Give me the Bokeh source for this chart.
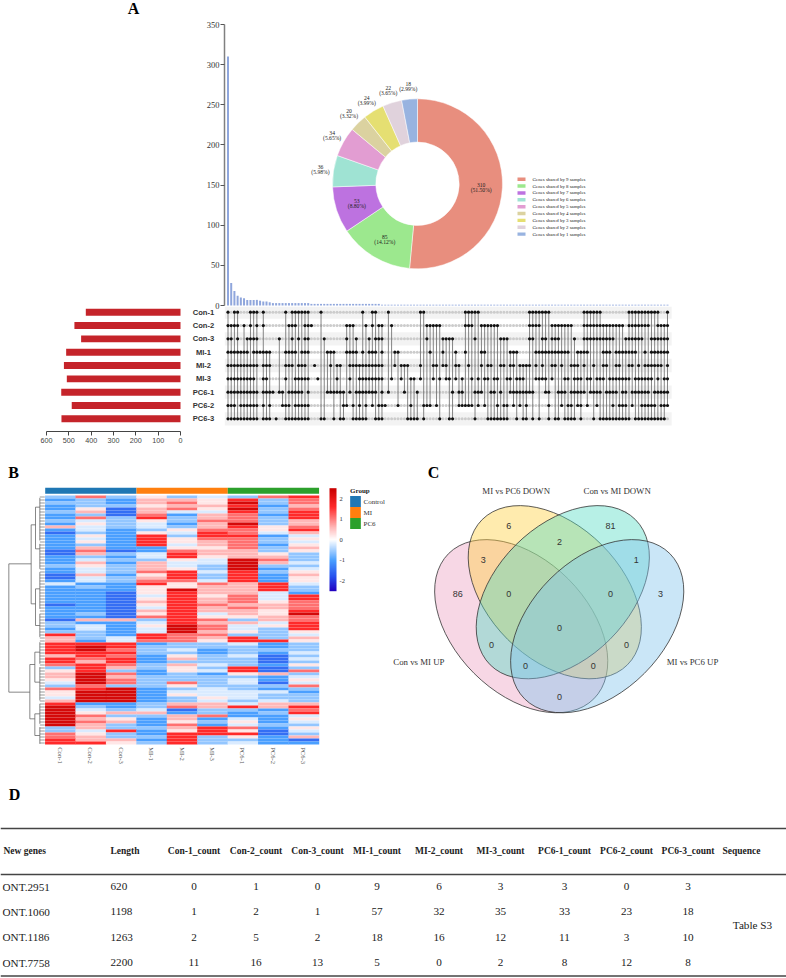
import math
from bokeh.plotting import figure
from bokeh.layouts import column, row
from bokeh.models import Range1d, FixedTicker, LinearAxis, ColorBar, LinearColorMapper, ColumnDataSource
from bokeh.core.properties import value
from bokeh.embed import file_html
from bokeh.resources import INLINE

SERIF = "Liberation Serif"
SANS = "Liberation Sans"

# ---------- Panel A data
samples = ["Con-1", "Con-2", "Con-3", "MI-1", "MI-2", "MI-3", "PC6-1", "PC6-2", "PC6-3"]
set_sizes = [424, 475, 445, 512, 522, 509, 534, 487, 533]
intersection_sizes = [310, 28, 18, 12, 10, 9, 7, 7, 7, 7, 6, 5, 5, 4,
                      3, 3, 3, 3, 3, 3, 3, 3, 3, 3, 3, 3,
                      2, 2, 2, 2, 2, 2, 2, 2, 2, 2, 2, 2, 2, 2, 2, 2, 2, 2, 2, 2, 2, 2,
                      1, 1, 1, 1, 1, 1, 1, 1, 1, 1, 1, 1, 1, 1, 1, 1, 1, 1, 1, 1, 1, 1,
                      1, 1, 1, 1, 1, 1, 1, 1, 1, 1, 1, 1, 1, 1, 1, 1, 1, 1, 1, 1, 1, 1,
                      1, 1, 1, 1, 1, 1, 1, 1, 1, 1, 1, 1, 1, 1, 1, 1, 1, 1, 1, 1, 1, 1,
                      1, 1, 1, 1, 1, 1, 1, 1, 1, 1, 1, 1, 1, 1, 1, 1, 1, 1, 1, 1, 1, 1, 1, 1]
member_runs = [
    "0 2-3 7-9 11 18 20-25 29 42 45-46 50 60-61 74-78 94-100 111-116 125-134 137",
    "0-3 5 7 9 11 19-21 24-26 37-39 43 45 47-48 51 62-66 74-76 79-84 94-97 101-107 111-123 125-131 134-137",
    "0-1 3 6-9 16 20 22 24-25 30 37 40 44 46-48 62 67-70 77 85-87 94-95 98-99 101-103 108 111-120 124-129 132-137",
    "0-6 8-13 18-21 23-25 31-33 37-40 42 44-46 48 52-53 63 67 71 74 79-80 88-90 96-106 109-112 117-119 121-127 130 132-137",
    "0-9 11-13 18-20 22-24 27 32 34-35 38-48 52 54-56 60 64-65 67-68 71-72 75 79 81-82 85-86 88-89 91-94 96 98 101-102 104 107-109 111 114 117-118 121-122 125-126 128 130-135 137",
    "0-8 11-12 18 21-25 28 34 38 41-48 51 54 57-58 60 64 66 68-69 71 73 76 78 80-81 83-84 87-88 90-92 96-99 101 105-106 108-110 112-113 115-117 119-125 127-132 134 136-137",
    "0-9 11-14 16-17 19-23 25 31-36 38 40-46 48 50 55 59 70 72-73 77-79 82-83 85 88-95 99-100 103-105 107-111 113-116 118-121 123-124 126-130 131 133-137",
    "0-2 4-9 11 13 17-19 21-25 36-37 39 41 43 45 47-49 53 57 61-63 65 72-76 78 80 84 86-87 89 91 93 100 104 106-107 109-110 112 115 120 122-124 126 129-133 135-137",
    "0-9 11-13 15 18-25 29-30 33 35-36 39-43 46-48 56-59 61 66 69-70 77 81-87 90 92-93 95 97 100 102-103 105-108 110 114 116-125 127-136",
]
donut_values = [310, 85, 53, 36, 34, 20, 24, 22, 18]
donut_percent = ["(51.50%)", "(14.12%)", "(8.80%)", "(5.98%)", "(5.65%)", "(3.32%)", "(3.99%)", "(3.65%)", "(2.99%)"]
donut_colors = ["#e88e7e", "#9ce88e", "#bd72e0", "#9fe3d3", "#e29dd2", "#dbd2a0", "#e5df72", "#e0d2dc", "#98b3e0"]
donut_legend = ["Genes shared by %d samples" % n for n in [9, 8, 7, 6, 5, 4, 3, 2, 1]]

# ---------- Panel B data (one character per cell: level index)
heat_cols = ["Con-1", "Con-2", "Con-3", "MI-1", "MI-2", "MI-3", "PC6-1", "PC6-2", "PC6-3"]
heat_levels = [-2.1, -1.5, -1.0, -0.6, -0.2, 0.2, 0.6, 1.1, 1.6, 2.3]
heat_rows = [
    "373534378", "232665837", "332675937", "233566826", "251675937", "361644838", "231726728",
    "273836738", "343537736", "253426936", "643436857", "242357758", "132548746", "252838824",
    "242857735", "252856734", "232846725", "262255736", "171276635", "163486653", "232485663",
    "243354973", "262644964", "353643933", "243653924", "243784835", "162583826", "143683825",
    "243774825", "422857684", "232556683", "222596683", "221586642", "221485748", "221586748",
    "221686757", "121587667", "221486767", "221686658", "231584659", "221785567", "166387367",
    "322486648", "342597458", "242497438", "332496535", "832877334", "634876836", "624775885",
    "888233423", "898333323", "897342333", "888332324", "687253413", "878263314", "868233313",
    "787364325", "386353813", "583254817", "697232563", "696333324", "597333425", "497373414",
    "373353337", "789234323", "599244442", "599254433", "499235433", "699234343", "822366466",
    "932376868", "943413327", "956623238", "973367224", "965262425", "976253524", "963272433",
    "363368725", "348258514", "753288813", "763383526", "866283321", "885383422",
]
group_names = ["Control", "MI", "PC6"]
group_colors = ["#1f77b4", "#ff7f0e", "#2ca02c"]

# ---------- Panel C data
venn_names = ["Con vs MI UP", "MI vs PC6 DOWN", "Con vs MI DOWN", "MI vs PC6 UP"]
venn_colors = ["#ed9fc0", "#ffcf3d", "#54dcc4", "#80c4ec"]
venn_counts = [86, 6, 81, 3, 3, 2, 1, 0, 0, 0, 0, 0, 0, 0, 0]

# ---------- Panel D data
table_header = ["New genes", "Length", "Con-1_count", "Con-2_count", "Con-3_count", "MI-1_count", "MI-2_count",
                "MI-3_count", "PC6-1_count", "PC6-2_count", "PC6-3_count", "Sequence"]
table_genes = ["ONT.2951", "ONT.1060", "ONT.1186", "ONT.7758"]
table_length = [620, 1198, 1263, 2200]
table_counts = [
    [0, 1, 0, 9, 6, 3, 3, 0, 3],
    [1, 2, 1, 57, 32, 35, 33, 23, 18],
    [2, 5, 2, 18, 16, 12, 11, 3, 10],
    [11, 16, 13, 5, 0, 2, 8, 12, 8],
]
table_note = "Table S3"


def panel(w, h, xr, yr, left=0, right=0, top=0, bottom=0):
    p = figure(width=w, height=h, x_range=xr, y_range=yr, output_backend="svg", toolbar_location=None, tools="",
               min_border_left=left, min_border_right=right, min_border_top=top, min_border_bottom=bottom)
    p.outline_line_color = None
    p.background_fill_color = None
    p.border_fill_color = None
    p.grid.visible = False
    p.axis.visible = False
    return p


def txt(p, x, y, s, size, font=SERIF, style="normal", align="center", base="middle", color="#222222", angle=0, **kw):
    p.text(x=[x], y=[y], text=[str(s)], text_font=value(font), text_font_style=style, text_font_size="%.1fpx" % size,
           text_align=align, text_baseline=base, text_color=color, angle=angle, **kw)


# ================= A: intersection bars + donut
PX0, PXD = 227.5, 3.208
DCX, DCY, RO, RI = 417, 183.3, 85, 41.7
Y_SCALE = 281 / 350
top = panel(786, 310, Range1d((0 - PX0) / PXD, (786 - PX0) / PXD), Range1d(-5 / Y_SCALE, 305 / Y_SCALE))
top.extra_x_ranges["dx"] = Range1d(0 - DCX, 786 - DCX)
top.extra_y_ranges["dy"] = Range1d(DCY - 310, DCY)
ax = top.yaxis[0]
ax.visible = True
ax.fixed_location = (224 - PX0) / PXD
ax.bounds = (0, 350)
ax.ticker = FixedTicker(ticks=[0, 50, 100, 150, 200, 250, 300, 350])
ax.axis_line_color = "#808080"
ax.axis_line_width = 1.5
ax.major_tick_line_color = "#555555"
ax.major_tick_in = 0
ax.major_tick_out = 4
ax.minor_tick_line_color = None
ax.major_label_standoff = 1
ax.major_label_text_font = SERIF
ax.major_label_text_font_size = "8.5px"
ax.major_label_text_color = "#333333"
top.vbar(x=list(range(len(intersection_sizes))), top=intersection_sizes, bottom=0, width=0.62,
         fill_color="#8fa6dc", line_color=None)
total = sum(donut_values)
starts, ends, acc = [], [], 0
for v in donut_values:
    starts.append(math.pi / 2 - 2 * math.pi * acc / total)
    acc += v
    ends.append(math.pi / 2 - 2 * math.pi * acc / total)
top.annular_wedge(x=0, y=0, inner_radius=RI, outer_radius=RO, start_angle=starts, end_angle=ends, direction="clock",
                  fill_color=donut_colors, line_color="white", line_width=0.5, x_range_name="dx", y_range_name="dy")
for i, v in enumerate(donut_values):
    mid = (starts[i] + ends[i]) / 2
    rr = RO * (0.75 if i < 3 else 1.155)
    for s, b in ((v, "bottom"), (donut_percent[i], "top")):
        txt(top, rr * math.cos(mid), rr * math.sin(mid), s, 5.6, base=b, x_range_name="dx", y_range_name="dy")
LEGX, LEGY, LEGD = 517 - DCX, DCY - 178.7, 6.87
for i, s in enumerate(donut_legend):
    yy = LEGY - LEGD * i
    top.rect(x=[LEGX + 4], y=[yy], width=8, height=3.4, fill_color=donut_colors[i], line_color=None,
             x_range_name="dx", y_range_name="dy")
    txt(top, LEGX + 15, yy, s, 4.9, align="left", x_range_name="dx", y_range_name="dy")
txt(top, 133 - DCX, DCY - 7.5, "A", 16, style="bold", color="black", x_range_name="dx", y_range_name="dy")

# ================= A: set size bars and matrix share one figure
ROW0, ROWD = 311.7, 13.33
idx = list(range(len(samples)))
mx = panel(786, 149, Range1d((46 - PX0) / PXD, (786 - PX0) / PXD), Range1d((431 - ROW0) / ROWD, (306 - ROW0) / ROWD),
           left=46, bottom=24)
SZ_SCALE = 134 / 600
mx.extra_x_ranges["sz"] = Range1d(600, 600 - (786 - 46) / SZ_SCALE)
xa = LinearAxis(x_range_name="sz", bounds=(0, 600), ticker=FixedTicker(ticks=[0, 100, 200, 300, 400, 500, 600]))
xa.axis_line_color = "#444444"
xa.major_tick_line_color = "#444444"
xa.major_tick_in = 0
xa.major_tick_out = 4
xa.minor_tick_line_color = None
xa.major_label_standoff = 2
xa.major_label_text_font = SANS
xa.major_label_text_font_size = "7.2px"
xa.major_label_text_color = "#444444"
mx.add_layout(xa, "below")
mx.hbar(y=idx, right=set_sizes, left=0, height=0.52, fill_color="#c5242a", line_color=None, x_range_name="sz")
n_cols = len(intersection_sizes)
mx.hbar(y=[i for i in idx if i % 2 == 0], left=-1, right=n_cols + 0.3, height=1, fill_color="#f3f3f3", line_color=None)
bx, by, gx, gy = [], [], [], []
col_rows = {}
for i, runs in enumerate(member_runs):
    on = set()
    for tok in runs.split():
        a, _, b = tok.partition("-")
        on.update(range(int(a), int(b or a) + 1))
    for c in range(n_cols):
        if c in on:
            bx.append(c); by.append(i)
            col_rows.setdefault(c, []).append(i)
        else:
            gx.append(c); gy.append(i)
mx.scatter(x=gx, y=gy, size=3, fill_color="#cccccc", line_color=None)
cs = sorted(col_rows)
mx.segment(x0=cs, x1=cs, y0=[min(col_rows[c]) for c in cs], y1=[max(col_rows[c]) for c in cs],
           line_color="#777777", line_width=0.9)
mx.scatter(x=bx, y=by, size=3.2, fill_color="#111111", line_color=None)
LABX = (203 - PX0) / PXD
for i, s in enumerate(samples):
    txt(mx, LABX, i, s, 7.6, font=SANS, style="bold", color="#333333")

# ================= B + C
bc = panel(786, 325, Range1d(0, 786), Range1d(780, 455))
HX0, HXD, HY0, HYD = 44.7, 30.43, 495, 3.0
bc.extra_x_ranges["hx"] = Range1d((0 - HX0) / HXD, (786 - HX0) / HXD)
bc.extra_y_ranges["hy"] = Range1d((780 - HY0) / HYD, (455 - HY0) / HYD)
stops = [(-2.5, (0x22, 0x00, 0xc0)), (-1.8, (0x26, 0x50, 0xee)), (-1.0, (0x4a, 0xa0, 0xff)), (0, (255, 255, 255)),
         (0.6, (255, 0xb8, 0xb8)), (1.6, (255, 0x2a, 0x2a)), (2.5, (0xc8, 0, 0))]
palette = []
for k in range(256):
    v = -2.5 + 5 * k / 255
    for (a, ca), (b, cb) in zip(stops, stops[1:]):
        if a <= v <= b:
            t = (v - a) / (b - a)
            palette.append("#%02x%02x%02x" % tuple(round(ca[j] + (cb[j] - ca[j]) * t) for j in range(3)))
            break
mapper = LinearColorMapper(palette=palette, low=-2.5, high=2.5)
hx, hy, hz = [], [], []
for r, s in enumerate(heat_rows):
    for c, ch in enumerate(s):
        hx.append(c + 0.5); hy.append(r + 0.5); hz.append(heat_levels[int(ch)])
bc.rect(x="x", y="y", width=1.01, height=1.0, fill_color={"field": "z", "transform": mapper}, line_color=None,
        source=ColumnDataSource(dict(x=hx, y=hy, z=hz)), x_range_name="hx", y_range_name="hy")
n_rows = len(heat_rows)
bc.quad(left=[0, 3, 6], right=[3, 6, 9], top=[-2.55] * 3, bottom=[-0.6] * 3,
        fill_color=group_colors, line_color=None, x_range_name="hx", y_range_name="hy")
for c, s in enumerate(heat_cols):
    txt(bc, c + 0.5, n_rows + 0.9, s, 6.6, align="left", color="#555555", angle=-math.pi / 2,
        x_range_name="hx", y_range_name="hy")
# dendrogram (zoomed picture units: x/3, 460 + y/3)
dz_v = [(25, 310, 695), (92, 193, 430), (88, 612, 775), (105, 140, 265), (105, 385, 495), (103, 575, 665),
        (103, 760, 825), (118, 112, 240), (118, 250, 325), (118, 335, 445), (118, 460, 530), (118, 545, 610),
        (118, 620, 720), (118, 730, 790), (118, 800, 850)]
dz_h = [(310, 25, 92), (695, 25, 88), (193, 92, 105), (430, 92, 105), (612, 88, 103), (775, 88, 103), (140, 105, 118),
        (265, 105, 118), (385, 105, 118), (495, 105, 118), (575, 103, 118), (665, 103, 118), (760, 103, 118),
        (825, 103, 118)]
bc.segment(x0=[v[0] / 3 for v in dz_v], x1=[v[0] / 3 for v in dz_v], y0=[460 + v[1] / 3 for v in dz_v],
           y1=[460 + v[2] / 3 for v in dz_v], line_color="#555555", line_width=0.7)
bc.segment(x0=[v[1] / 3 for v in dz_h], x1=[v[2] / 3 for v in dz_h], y0=[460 + v[0] / 3 for v in dz_h],
           y1=[460 + v[0] / 3 for v in dz_h], line_color="#555555", line_width=0.7)
tips = [HY0 + HYD * (r + 0.5) for r in range(n_rows)]
bc.segment(x0=[118 / 3] * n_rows, x1=[HX0 - 0.4] * n_rows, y0=tips, y1=tips, line_color="#555555", line_width=0.6)
cb = ColorBar(color_mapper=mapper, location=(329, 780 - 590.7), width=7, height=103, padding=0,
              ticker=FixedTicker(ticks=[-2, -1, 0, 1, 2]), major_tick_line_color=None, bar_line_color=None,
              border_line_color=None, background_fill_alpha=0, label_standoff=3,
              major_label_text_font=SERIF, major_label_text_font_size="6.5px", major_label_text_color="#333333",
              major_label_overrides={-2: "-2", -1: "-1", 0: "0", 1: "1", 2: "2"})
bc.add_layout(cb)
txt(bc, 349.5, 490, "Group", 7, style="bold", align="left", color="#222222")
for i, s in enumerate(group_names):
    bc.rect(x=[355], y=[501 + 11 * i], width=10.7, height=11, fill_color=group_colors[i], line_color=None)
    txt(bc, 363, 501 + 11 * i, s, 7, align="left", color="#333333")
txt(bc, 13, 472, "B", 16, style="bold", color="black")

# Venn
venn_x = [520.7, 554.3, 562.3, 596.7]
venn_y = [625.7, 591.7, 591.7, 625.7]
venn_a = [3 * math.pi / 4, 3 * math.pi / 4, math.pi / 4, math.pi / 4]
for i in range(4):
    bc.ellipse(x=[venn_x[i]], y=[venn_y[i]], width=2 * 102.7, height=2 * 66.7, angle=venn_a[i],
               fill_color=venn_colors[i], fill_alpha=0.42, line_color="#333333", line_width=0.8)
count_x = [232, 385, 690, 840, 308, 537, 767, 385, 690, 537, 333, 738, 435, 638, 537]
count_y = [400, 195, 195, 400, 297, 245, 297, 400, 400, 502, 553, 553, 615, 615, 708]
for s, cx, cy in zip(venn_counts, count_x, count_y):
    txt(bc, 380 + cx / 3, 460 + cy / 3, s, 9, font=SANS, color="#333333")
name_x = [115, 407, 710, 936]
name_y = [605, 92, 92, 605]
for s, cx, cy in zip(venn_names, name_x, name_y):
    txt(bc, 380 + cx / 3, 460 + cy / 3, s, 8.8, color="#333333")
txt(bc, 433, 472, "C", 16, style="bold", color="black")

# ================= D: table
dt = panel(786, 197, Range1d(0, 786), Range1d(977, 780))
txt(dt, 14, 794, "D", 16, style="bold", color="black")
rule_y = [828, 874, 975.5]
dt.segment(x0=[0] * 3, x1=[786] * 3, y0=rule_y, y1=rule_y, line_color="#444444", line_width=1.5)
col_x = [193.5, 255.5, 317, 376.5, 438.5, 500, 564, 626, 687.5]
HEAD = 9.5
DATA = 11.2
txt(dt, 3, 850, table_header[0], HEAD, style="bold", align="left", color="#222222")
txt(dt, 110, 850, table_header[1], HEAD, style="bold", align="left", color="#222222")
for s, cx in zip(table_header[2:11], col_x):
    txt(dt, cx, 850, s, HEAD, style="bold", color="#222222")
txt(dt, 722, 850, table_header[11], HEAD, style="bold", align="left", color="#222222")
row_y = [886, 911.3, 936.7, 962.3]
for g, ln, vals, ry in zip(table_genes, table_length, table_counts, row_y):
    txt(dt, 2, ry, g, DATA, align="left")
    txt(dt, 110, ry, ln, DATA, align="left")
    for v, cx in zip(vals, col_x):
        txt(dt, cx, ry, v, DATA)
txt(dt, 752, 924, table_note, DATA)

lay = column(row(top, spacing=0), row(mx, spacing=0, margin=(-4, 0, 0, 0)), row(bc, spacing=0),
             row(dt, spacing=0), spacing=0)
open("out.html", "w").write(file_html(lay, INLINE))
